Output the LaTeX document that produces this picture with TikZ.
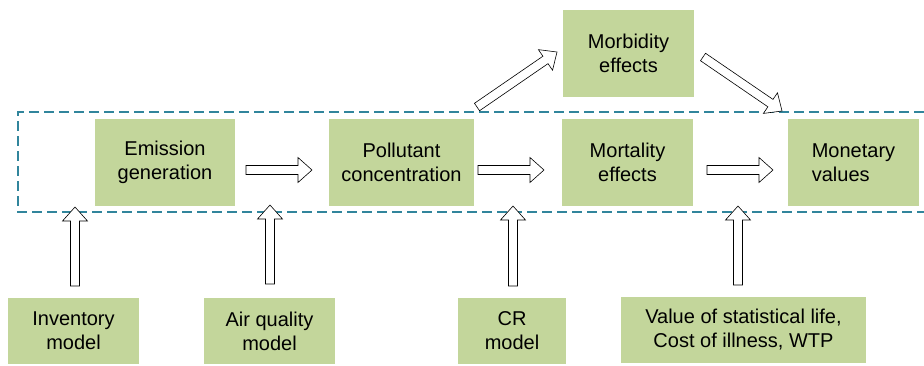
\documentclass[tikz,border=0pt]{standalone}
\usepackage{fontspec}
\setmainfont{Liberation Sans}
\usepackage{tikz}
\usetikzlibrary{calc}

\definecolor{boxgreen}{RGB}{195,214,155}
\definecolor{frameblue}{RGB}{49,133,156}

\begin{document}
\begin{tikzpicture}[x=1pt, y=-1pt,
        box/.style={fill=boxgreen, inner sep=0pt, align=center, font=\fontsize{20}{24}\selectfont},
        frame/.style={draw=frameblue, line width=2pt, dash pattern=on 10pt off 5pt},
        blockarrow/.style={draw=black, fill=white, line width=0.6pt, line join=miter,
            to path={
                ($(\tikztostart)!4.5pt!90:(\tikztotarget)$)
                -- ($(\tikztotarget)!14pt!(\tikztostart)!4.5pt!-90:(\tikztostart)$)
                -- ($(\tikztotarget)!14pt!(\tikztostart)!12.5pt!-90:(\tikztostart)$)
                -- (\tikztotarget)
                -- ($(\tikztotarget)!14pt!(\tikztostart)!12.5pt!90:(\tikztostart)$)
                -- ($(\tikztotarget)!14pt!(\tikztostart)!4.5pt!90:(\tikztostart)$)
                -- ($(\tikztostart)!4.5pt!-90:(\tikztotarget)$)
                -- cycle}}]
        \useasboundingbox (0,0) rectangle (924,365);

        % main row
        \node [box, minimum width=140pt, minimum height=87pt] (R1) at (165, 162.5) {Emission\\generation};
        \node [box, minimum width=145pt, minimum height=87pt] (R2) at (401.5, 162.5) {Pollutant\\concentration};
        \node [box, minimum width=131pt, minimum height=87pt] (R3) at (627.5, 162.5) {Mortality\\effects};
        \node [box, minimum width=131pt, minimum height=87pt, align=left] (R4) at (853.5, 162.5) {Monetary\\values};
        \node [box, minimum width=131pt, minimum height=87pt] (R5) at (628.5, 53.5) {Morbidity\\effects};

        % inputs
        \node [box, minimum width=131pt, minimum height=66pt] (I1) at (73.5, 331) {Inventory\\model};
        \node [box, minimum width=131pt, minimum height=66pt] (I2) at (269.5, 331) {Air quality\\model};
        \node [box, minimum width=108pt, minimum height=66pt] (I3) at (512, 331) {CR\\model};
        \node [box, minimum width=245pt, minimum height=66pt] (I4) at (743.5, 330) {Value of statistical life,\\Cost of illness, WTP};

        \draw [frame] (924, 112) -- (18, 112) -- (18, 212) -- (924, 212);

        \coordinate (H1s) at (246, 170);
        \coordinate (H1e) at (312, 170);
        \coordinate (H2s) at (478, 170);
        \coordinate (H2e) at (544, 170);
        \coordinate (H3s) at (707, 170);
        \coordinate (H3e) at (773, 170);
        \coordinate (D1s) at (477, 107);
        \coordinate (D1e) at (557, 52);
        \coordinate (D2s) at (703, 57);
        \coordinate (D2e) at (782, 111);
        \coordinate (V1s) at (75, 286);
        \coordinate (V1e) at (75, 207);
        \coordinate (V2s) at (270, 284);
        \coordinate (V2e) at (270, 205);
        \coordinate (V3s) at (513, 286);
        \coordinate (V3e) at (513, 206);
        \coordinate (V4s) at (738, 285);
        \coordinate (V4e) at (738, 206);

        \draw [blockarrow] (H1s) to (H1e);
        \draw [blockarrow] (H2s) to (H2e);
        \draw [blockarrow] (H3s) to (H3e);
        \draw [blockarrow] (D1s) to (D1e);
        \draw [blockarrow] (D2s) to (D2e);
        \draw [blockarrow] (V1s) to (V1e);
        \draw [blockarrow] (V2s) to (V2e);
        \draw [blockarrow] (V3s) to (V3e);
        \draw [blockarrow] (V4s) to (V4e);
    \end{tikzpicture}
\end{document}
